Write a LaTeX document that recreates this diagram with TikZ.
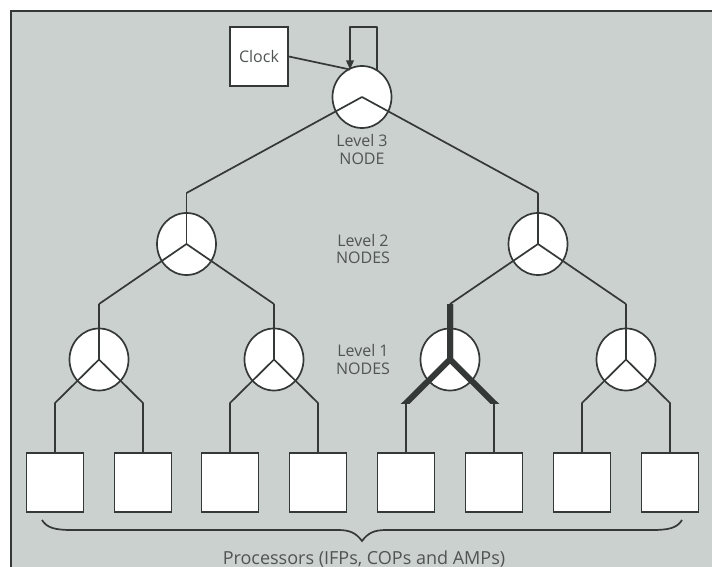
\documentclass[tikz,border=0pt]{standalone}
\usepackage{fontspec}
\setmainfont{Open Sans}
\usetikzlibrary{arrows.meta,shapes.geometric,calc}
\definecolor{bg}{RGB}{203,209,206}
\definecolor{ink}{RGB}{52,57,55}
\definecolor{txt}{RGB}{80,85,83}
\begin{document}
\begin{tikzpicture}[x=1pt,y=-1pt,
  lnk/.style={draw=ink,line width=1.7pt,line join=round},
  hot/.style={draw=ink,line width=6pt,line cap=butt,line join=miter},
  swnode/.style={ellipse,draw=ink,line width=1.7pt,fill=white,minimum width=59pt,minimum height=62pt,inner sep=0pt},
  proc/.style={rectangle,draw=ink,line width=1.7pt,fill=white,minimum width=57pt,minimum height=59pt,inner sep=0pt},
  lbl/.style={text=txt,font=\fontsize{16}{17.5}\selectfont,align=center,inner sep=0pt}]
\useasboundingbox (0,0) rectangle (712,567);
\fill[white] (0,0) rectangle (712,567);
\fill[bg] (11,11) rectangle (712,567);
\draw[ink,line width=1.7pt] (11,567) -- (11,11) -- (712,11);

% processors
\foreach \i/\x in {1/55,2/143,3/230,4/318,5/406,6/494,7/582,8/670}{
  \node[proc] (P\i) at (\x,482.5) {};
  \coordinate (B\i) at (\x,403);
}

% switch nodes
\node[swnode] (N3) at (362,97) {};
\node[swnode] (N2a) at (186.5,244) {};
\node[swnode] (N2b) at (538,244) {};
\node[swnode] (N1a) at (99,359.5) {};
\node[swnode] (N1b) at (274,359.5) {};
\node[swnode] (N1c) at (450,359.5) {};
\node[swnode] (N1d) at (626,359.5) {};

% stem tops
\coordinate (T2a) at (186.5,193);
\coordinate (T2b) at (538,193);
\coordinate (T1a) at (99,304);
\coordinate (T1b) at (274,304);
\coordinate (T1c) at (450,304);
\coordinate (T1d) at (626,304);

% level 3
\draw[lnk] (T2a) -- (N3.center) -- (T2b);
% level 2
\draw[lnk] (T1a) -- (N2a.center) -- (T1b);
\draw[lnk] (N2a.center) -- (T2a);
\draw[lnk] (T1c) -- (N2b.center) -- (T1d);
\draw[lnk] (N2b.center) -- (T2b);
% level 1
\draw[lnk] (P1.north) -- (B1) -- (N1a.center) -- (B2) -- (P2.north);
\draw[lnk] (N1a.center) -- (T1a);
\draw[lnk] (P3.north) -- (B3) -- (N1b.center) -- (B4) -- (P4.north);
\draw[lnk] (N1b.center) -- (T1b);
\draw[lnk] (P7.north) -- (B7) -- (N1d.center) -- (B8) -- (P8.north);
\draw[lnk] (N1d.center) -- (T1d);
% highlighted node
\draw[lnk] (B5) -- (P5.north);
\draw[lnk] (B6) -- (P6.north);
\begin{scope}
  \clip (380,300) rectangle (520,403.5);
  \draw[hot] (T1c) -- (N1c.center) -- ($(N1c.center)!1.12!(B5)$);
  \draw[hot] (T1c) -- (N1c.center) -- ($(N1c.center)!1.12!(B6)$);
\end{scope}

% clock
\node[proc,lbl,minimum width=58pt,minimum height=59pt,inner sep=0pt,draw=ink,fill=white,text=txt] (clk) at (259,56.5) {Clock};
\coordinate (fbIn) at (350,69.5);
\coordinate (fbOut) at (377,71);
\draw[lnk] (clk.east) -- (fbIn);
\draw[lnk,-{Triangle[length=9pt,width=7.5pt]}] (fbOut) -- ++(0,-44) -| (fbIn);

% labels
\node[lbl] (lab3) at (362,149.5) {Level 3\\NODE};
\node[lbl] (lab2) at (363,249) {Level 2\\NODES};
\node[lbl] (lab1) at (363,359.5) {Level 1\\NODES};

% brace
\draw[ink,line width=1.7pt] (42,520) .. controls (47,528) and (55,530) .. (72,530)
  -- (338,530) .. controls (350,530) and (356,533) .. (362,541)
  .. controls (368,533) and (374,530) .. (386,530)
  -- (652,530) .. controls (669,530) and (677,528) .. (682,520);
\node[lbl,font=\fontsize{18}{20}\selectfont,anchor=base] (plab) at (364,564) {Processors (IFPs, COPs and AMPs)};
\end{tikzpicture}
\end{document}
